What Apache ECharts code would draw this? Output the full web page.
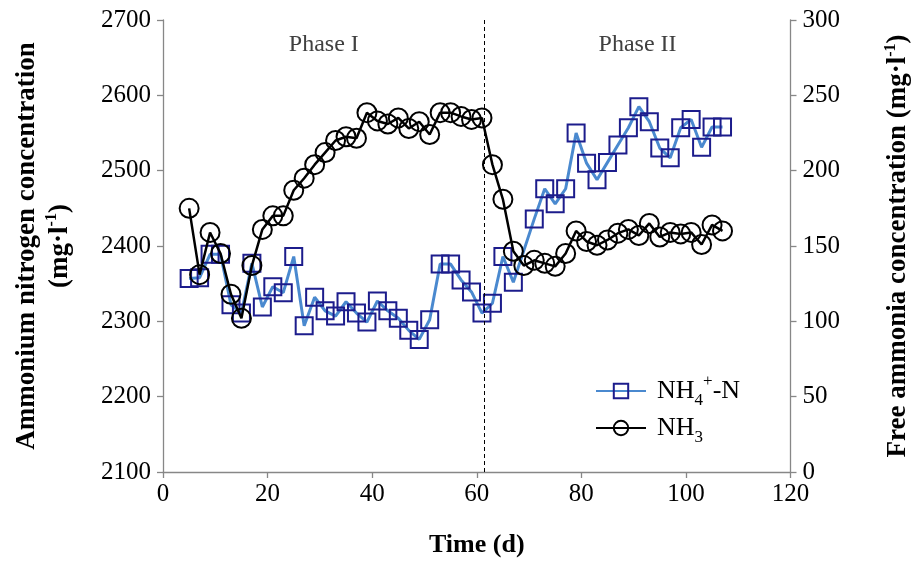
<!DOCTYPE html>
<html>
<head>
<meta charset="utf-8">
<title>Ammonium and free ammonia</title>
<script src="https://cdn.jsdelivr.net/npm/echarts@6.0.0/dist/echarts.min.js"></script>
<style>
  html, body { margin: 0; padding: 0; background: #fff; }
  #chart { width: 920px; height: 564px; }
</style>
</head>
<body>
<div id="chart"></div>
<script>
// sampling days (d)
var days = [5, 7, 9, 11, 13, 15, 17, 19, 21, 23, 25, 27, 29, 31, 33, 35, 37, 39, 41, 43,
            45, 47, 49, 51, 53, 55, 57, 59, 61, 63, 65, 67, 69, 71, 73, 75, 77, 79, 81, 83,
            85, 87, 89, 91, 93, 95, 97, 99, 101, 103, 105, 107];

// ammonium nitrogen, mg/l (left axis)
var nh4 = [2357, 2358, 2389, 2389, 2322, 2311, 2377, 2319, 2346, 2338, 2386, 2294, 2332, 2314, 2307, 2326, 2311, 2299, 2327, 2314,
           2304, 2288, 2276, 2302, 2376, 2376, 2355, 2339, 2311, 2324, 2386, 2352, null, 2436, 2476, 2456, 2476, 2550, 2510, 2488,
           2511, 2534, 2557, 2585, 2565, 2530, 2517, 2557, 2568, 2531, 2558, 2558];

// free ammonia, mg/l (right axis)
var nh3 = [175, 131, 159, 145, 118, 102, 137, 161, 170, 170, 187, 195, 204, 212, 220, 222.5, 221.5, 238.5, 233, 231,
           235, 228, 232.5, 224, 238.5, 238.5, 236, 234, 235, 204, 181, 146.5, 137, 140.5, 138.5, 136.5, 145, 160, 153, 150.5,
           154, 158.5, 161, 157, 165, 156, 159, 158, 159, 151, 164, 160];

var phaseSplit = 61.5;
var phaseNames = ['Phase I', 'Phase II'];

var xTicks = { min: 0, max: 120, interval: 20 };
var leftTicks = { min: 2100, max: 2700, interval: 100 };
var rightTicks = { min: 0, max: 300, interval: 50 };

var font = '"Liberation Serif", "Times New Roman", serif';
var axisGray = '#878787';

function pairs(xs, ys) {
    return xs.map(function (x, i) { return [x, ys[i]]; });
}

function plain(v) { return String(v); }

var supRich = {
    a: { fontFamily: font, fontSize: 26, color: '#000', verticalAlign: 'middle' },
    ab: { fontFamily: font, fontSize: 27, fontWeight: 'bold', color: '#000', verticalAlign: 'middle' },
    sub: { fontFamily: font, fontSize: 17, color: '#000', verticalAlign: 'bottom', lineHeight: 36 },
    sup: { fontFamily: font, fontSize: 17, color: '#000', verticalAlign: 'top', lineHeight: 36 },
    supb: { fontFamily: font, fontSize: 16, fontWeight: 'bold', color: '#000', verticalAlign: 'top', lineHeight: 32 }
};

var dom = document.getElementById('chart');
var myChart = echarts.init(dom, null, { renderer: 'canvas' });

var axisCommon = {
    axisLine: { show: true, lineStyle: { color: axisGray, width: 1.3 } },
    axisTick: { show: true, inside: false, length: 6, lineStyle: { color: axisGray, width: 1.3 } },
    splitLine: { show: false }
};

var option = {
    animation: false,
    backgroundColor: '#fff',
    grid: { left: 163, right: 127, top: 20, bottom: 92, containLabel: false },
    legend: {
        orient: 'vertical',
        left: 590,
        top: 368,
        itemWidth: 50,
        itemHeight: 18,
        itemGap: 6,
        data: ['NH4+-N', 'NH3'],
        formatter: function (name) {
            if (name === 'NH3') return '{a|NH}{sub|3}';
            return '{a|NH}{sub|4}{sup|+}{a|-N}';
        },
        textStyle: { rich: supRich, padding: [0, 0, 0, 6] }
    },
    xAxis: Object.assign({}, axisCommon, {
        type: 'value',
        min: xTicks.min, max: xTicks.max, interval: xTicks.interval,
        name: 'Time (d)',
        nameLocation: 'middle',
        nameGap: 60,
        nameTextStyle: { color: '#000', fontFamily: font, fontSize: 26, fontWeight: 'bold' },
        axisLabel: { color: '#000', fontFamily: font, fontSize: 25, margin: 10, formatter: plain }
    }),
    yAxis: [
        Object.assign({}, axisCommon, {
            type: 'value',
            position: 'left',
            min: leftTicks.min, max: leftTicks.max, interval: leftTicks.interval,
            name: '{ab|Ammonium nitrogen concentration}\n{ab|(mg·l}{supb|-1}{ab|)}',
            nameLocation: 'middle',
            nameRotate: 90,
            nameGap: 86,
            nameTextStyle: { color: '#000', fontFamily: font, fontSize: 27, fontWeight: 'bold', lineHeight: 33, rich: supRich },
            axisLabel: { color: '#000', fontFamily: font, fontSize: 25, margin: 12, formatter: plain }
        }),
        Object.assign({}, axisCommon, {
            type: 'value',
            position: 'right',
            min: rightTicks.min, max: rightTicks.max, interval: rightTicks.interval,
            name: '{ab|Free ammonia concentration (mg·l}{supb|-1}{ab|)}',
            nameLocation: 'middle',
            nameRotate: 90,
            nameGap: 92,
            nameTextStyle: { color: '#000', fontFamily: font, fontSize: 27, fontWeight: 'bold', rich: supRich },
            axisLabel: { color: '#000', fontFamily: font, fontSize: 25, margin: 12, formatter: plain }
        })
    ],
    series: [
        {
            name: 'NH4+-N',
            type: 'line',
            yAxisIndex: 0,
            data: pairs(days, nh4),
            connectNulls: true,
            symbol: 'rect',
            symbolSize: 17,
            lineStyle: { color: '#4a89cf', width: 3 },
            itemStyle: { color: 'none', borderColor: '#1c1c8c', borderWidth: 2 },
            z: 2,
            markLine: {
                silent: true,
                symbol: 'none',
                label: { show: false },
                lineStyle: { color: '#000', type: [4, 3], width: 1 },
                data: [{ xAxis: phaseSplit }]
            },
            markArea: {
                silent: true,
                itemStyle: { color: 'rgba(0,0,0,0)' },
                label: { position: 'insideTop', distance: 13, color: '#404040', fontFamily: font, fontSize: 24 },
                data: [
                    [{ name: phaseNames[0], xAxis: xTicks.min }, { xAxis: phaseSplit }],
                    [{ name: phaseNames[1], xAxis: phaseSplit }, { xAxis: xTicks.max }]
                ]
            }
        },
        {
            name: 'NH3',
            type: 'line',
            yAxisIndex: 1,
            data: pairs(days, nh3),
            symbol: 'circle',
            symbolSize: 19,
            lineStyle: { color: '#000', width: 2.5 },
            itemStyle: { color: 'none', borderColor: '#000', borderWidth: 2 },
            z: 3
        }
    ]
};

myChart.setOption(option);
window.addEventListener('resize', myChart.resize);
</script>
</body>
</html>
